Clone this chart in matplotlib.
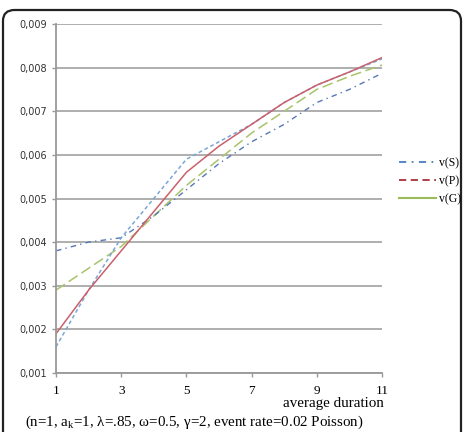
import numpy as np
import matplotlib
matplotlib.use("Agg")
import matplotlib.pyplot as plt
from matplotlib.lines import Line2D
from matplotlib.patches import FancyBboxPatch

# average duration
duration = [1, 2, 3, 4, 5, 6, 7, 8, 9, 10, 11]

# curves
s_dashdot = [0.0038, 0.0040, 0.0041, 0.0046, 0.0052, 0.0058, 0.0063, 0.0067, 0.0072, 0.0075, 0.00787]
s_dotted = [0.0016, 0.0029, 0.0041, 0.0050, 0.0059, 0.0063, 0.0067, 0.0072, 0.0076, 0.0079, 0.0082]
p_solid = [0.0019, 0.0029, 0.0038, 0.0047, 0.0056, 0.0062, 0.0067, 0.0072, 0.0076, 0.0079, 0.00823]
g_dashed = [0.0029, 0.0034, 0.0039, 0.0046, 0.0053, 0.0059, 0.0065, 0.0070, 0.0075, 0.0078, 0.00806]

x_ticks = [1, 3, 5, 7, 9, 11]
y_ticks = [0.001, 0.002, 0.003, 0.004, 0.005, 0.006, 0.007, 0.008, 0.009]
y_labels = ["0,001", "0,002", "0,003", "0,004", "0,005", "0,006", "0,007", "0,008", "0,009"]
legend_labels = ["v(S)", "v(P)", "v(G)"]

W, H = 465, 432
fig = plt.figure(figsize=(W / 100, H / 100), dpi=100)

# rounded frame round the whole picture
frame = FancyBboxPatch((3 / W, -20 / H), 458 / W, (H + 15 - 5) / H,
                       boxstyle="round,pad=0,rounding_size=0.025",
                       transform=fig.transFigure, fill=False,
                       edgecolor="#222222", linewidth=1.6)
fig.patches.append(frame)

ax = fig.add_axes([56 / W, 1 - 373 / H, 326 / W, 349 / H])

ax.plot(duration, g_dashed, color="#a8c46a", linestyle=(0, (7, 3)), linewidth=1.1)
ax.plot(duration, s_dashdot, color="#5478b8", linestyle=(0, (4, 3, 1, 3)), linewidth=1.0)
ax.plot(duration, s_dotted, color="#7aa6d6", linestyle=(0, (2.5, 1.8)), linewidth=1.1)
ax.plot(duration, p_solid, color="#c9606c", linestyle="-", linewidth=1.1)

ax.set_xlim(1, 11)
ax.set_ylim(0.001, 0.009)
ax.set_yticks(y_ticks)
ax.set_yticklabels(y_labels, fontsize=7, family="DejaVu Sans", color="#333333")
ax.set_xticks(x_ticks)
ax.set_xticklabels([str(t) for t in x_ticks], fontsize=9.5, family="Liberation Serif")
ax.yaxis.grid(True, color="#999999", linewidth=1.1)
ax.set_axisbelow(True)
for side in ["top", "right"]:
    ax.spines[side].set_visible(False)
ax.spines["left"].set_color("#999999")
ax.spines["bottom"].set_color("#999999")
ax.spines["left"].set_linewidth(1.3)
ax.spines["bottom"].set_linewidth(1.3)
ax.tick_params(axis="both", color="#999999", length=3, width=1)
ax.tick_params(axis="x", pad=6)

fig.text(384 / W, 1 - 404 / H, "average duration", ha="right", va="center",
         fontsize=10.8, family="Liberation Serif")
fig.text(25 / W, 1 - 422 / H,
         "(n=1, a$_\\mathregular{k}$=1, λ=.85, ω=0.5, γ=2, event rate=0.02 Poisson)",
         ha="left", va="center", fontsize=10.8, family="Liberation Serif")

handles = [
    Line2D([], [], color="#4a7cc0", linestyle=(0, (4, 3, 1, 3)), linewidth=1.3),
    Line2D([], [], color="#a8303c", linestyle=(0, (4, 2.5)), linewidth=1.3),
    Line2D([], [], color="#9bbb59", linestyle="-", linewidth=1.5),
]
fig.legend(handles, legend_labels, loc="center left",
           bbox_to_anchor=(388 / W, 1 - 181 / H), frameon=False,
           prop={"family": "Liberation Serif", "size": 8.5},
           handlelength=3.2, handletextpad=0.2, labelspacing=0.5)

fig.savefig("out.png", dpi=100)
